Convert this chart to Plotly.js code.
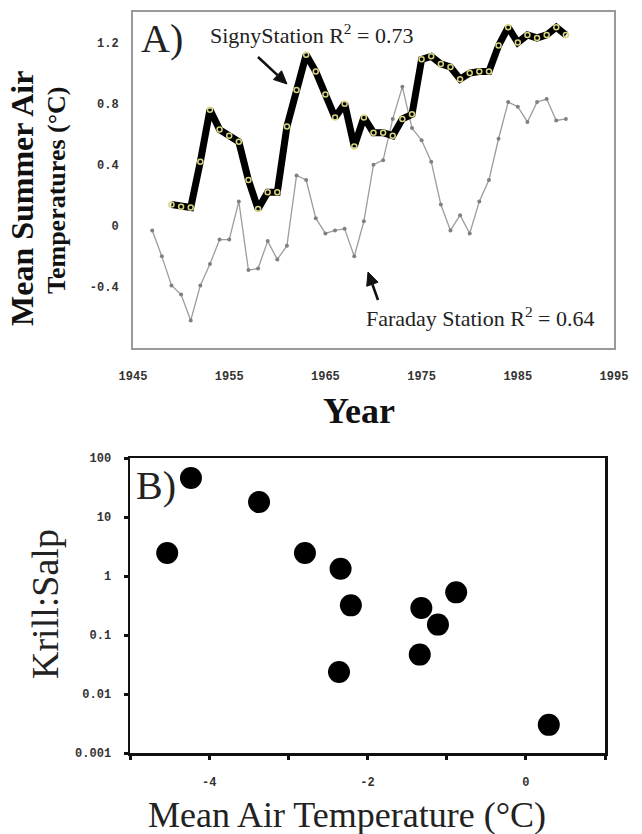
<!DOCTYPE html>
<html>
<head>
<meta charset="utf-8">
<script src="https://cdn.plot.ly/plotly-3.0.1.min.js"></script>
<style>
html,body{margin:0;padding:0;background:#fff;}
#chart{width:642px;height:834px;}
</style>
</head>
<body>
<div id="chart"></div>
<script>
// ---- Panel A data ----
const signyYears = [1949,1950,1951,1952,1953,1954,1955,1956,1957,1958,1959,1960,1961,1962,1963,1964,1965,1966,1967,1968,1969,1970,1971,1972,1973,1974,1975,1976,1977,1978,1979,1980,1981,1982,1983,1984,1985,1986,1987,1988,1989,1990];
const signyTemps = [0.14,0.125,0.12,0.42,0.76,0.63,0.59,0.55,0.30,0.11,0.22,0.22,0.65,0.89,1.12,1.01,0.86,0.71,0.80,0.52,0.71,0.61,0.61,0.59,0.70,0.73,1.09,1.11,1.06,1.04,0.96,1.00,1.01,1.01,1.18,1.30,1.20,1.25,1.23,1.25,1.30,1.25];
const faradayYears = [1947,1948,1949,1950,1951,1952,1953,1954,1955,1956,1957,1958,1959,1960,1961,1962,1963,1964,1965,1966,1967,1968,1969,1970,1971,1972,1973,1974,1975,1976,1977,1978,1979,1980,1981,1982,1983,1984,1985,1986,1987,1988,1989,1990];
const faradayTemps = [-0.03,-0.20,-0.39,-0.45,-0.62,-0.39,-0.25,-0.09,-0.09,0.16,-0.29,-0.28,-0.10,-0.22,-0.13,0.33,0.30,0.05,-0.05,-0.03,-0.02,-0.20,0.03,0.40,0.43,0.70,0.91,0.64,0.56,0.42,0.14,-0.03,0.07,-0.05,0.16,0.30,0.57,0.81,0.78,0.68,0.81,0.83,0.69,0.70];
const yearTicks = [1945,1955,1965,1975,1985,1995];
const tempTicksA = [-0.4,0,0.4,0.8,1.2];
const tempTickTextA = ['-0.4','0','0.4','0.8','1.2'];

// ---- Panel B data ----
const airTemp = [-4.23,-3.37,-4.53,-2.79,-2.34,-2.21,-1.32,-0.88,-1.11,-1.34,-2.36,0.29];
const krillSalp = [45.8,17.9,2.45,2.45,1.33,0.318,0.287,0.528,0.150,0.0465,0.0236,0.0030];
const tempTicksB = [-4,-2,0];
const tempTickTextB = ['-4','-2','0'];
const tempMinorTicksB = [-5,-3,-1,1];
const ratioTicks = [0.001,0.01,0.1,1,10,100];
const ratioTickText = ['0.001','0.01','0.1','1','10','100'];

const W = 642, H = 834;
const px = v => v / W;
const py = v => 1 - v / H;

const serif = 'Liberation Serif, Times New Roman, serif';
const mono = 'Liberation Mono, DejaVu Sans Mono, monospace';

// arrow pointer shapes (decoration, figure pixels -> paper)
function arrowShapes(tail, head, headLen, halfW) {
  const dx = head[0] - tail[0], dy = head[1] - tail[1];
  const L = Math.hypot(dx, dy), ux = dx / L, uy = dy / L;
  const bx = head[0] - headLen * ux, by = head[1] - headLen * uy;
  const pxp = -uy * halfW, pyp = ux * halfW;
  const P = (x, y) => px(x).toFixed(5) + ',' + py(y).toFixed(5);
  return [
    {type:'line', xref:'paper', yref:'paper', x0:px(tail[0]), y0:py(tail[1]), x1:px(bx), y1:py(by),
     line:{color:'#111', width:2.6}},
    {type:'path', xref:'paper', yref:'paper',
     path:'M' + P(head[0], head[1]) + ' L' + P(bx + pxp, by + pyp) + ' L' + P(bx - pxp, by - pyp) + ' Z',
     fillcolor:'#111', line:{color:'#111', width:1}}
  ];
}

const traces = [
  {x: faradayYears, y: faradayTemps, xaxis:'x', yaxis:'y', mode:'lines+markers',
   line:{color:'#9c9c9c', width:1.3}, marker:{color:'#808080', size:4}, hoverinfo:'skip'},
  {x: signyYears, y: signyTemps, xaxis:'x', yaxis:'y', mode:'lines+markers',
   line:{color:'#000', width:7}, marker:{symbol:'circle-open', color:'#d8d47c', size:5, line:{width:1.5, color:'#d8d47c'}}, hoverinfo:'skip'},
  {x: airTemp, y: krillSalp, xaxis:'x2', yaxis:'y2', mode:'markers',
   marker:{color:'#000', size:22}, hoverinfo:'skip'}
];

const layout = {
  width: W, height: H,
  margin: {l:0, r:0, t:0, b:0},
  paper_bgcolor:'#fff', plot_bgcolor:'#fff',
  showlegend:false,
  xaxis: {domain:[px(133), px(614)], range:[1945,1995], tickvals: yearTicks, ticktext: yearTicks.map(String),
    showgrid:false, zeroline:false, showline:true, mirror:true, linecolor:'#9a9a9a', linewidth:2,
    ticks:'', ticklabelstandoff:16, tickfont:{family:mono, size:12, color:'#333', weight:'bold'}, anchor:'y'},
  yaxis: {domain:[py(348), py(12)], range:[-0.8,1.4], tickvals: tempTicksA, ticktext: tempTickTextA,
    showgrid:false, zeroline:false, showline:true, mirror:true, linecolor:'#9a9a9a', linewidth:2,
    ticks:'', ticklabelstandoff:10, tickfont:{family:mono, size:12, color:'#333', weight:'bold'}, anchor:'x'},
  xaxis2: {domain:[px(130), px(605)], range:[-5,1], tickmode:'array', tickvals: tempTicksB, ticktext: tempTickTextB,
    showgrid:false, zeroline:false, showline:true, mirror:true, linecolor:'#111', linewidth:2.5,
    ticks:'outside', ticklen:4, tickwidth:3, tickcolor:'#111', ticklabelstandoff:12,
    minor:{tickmode:'array', tickvals: tempMinorTicksB, ticks:'outside', ticklen:4, tickwidth:3, tickcolor:'#111', showgrid:false},
    tickfont:{family:mono, size:12, color:'#333', weight:'bold'}, anchor:'y2'},
  yaxis2: {domain:[py(753), py(458)], type:'log', range:[-3,2], tickvals: ratioTicks, ticktext: ratioTickText,
    showgrid:false, zeroline:false, showline:true, mirror:true, linecolor:'#111', linewidth:2.5,
    ticks:'outside', ticklen:4, tickwidth:3, tickcolor:'#111', ticklabelstandoff:10,
    tickfont:{family:mono, size:12, color:'#333', weight:'bold'}, anchor:'x2'},
  shapes: [].concat(
    arrowShapes([258, 57], [287, 84], 13, 6),
    arrowShapes([378, 300], [368, 272], 13, 6)
  ),
  annotations: [
    {xref:'paper', yref:'paper', x:px(22), y:py(199), text:'Mean Summer Air', textangle:-90, showarrow:false,
     font:{family:serif, size:32, color:'#111', weight:'bold'}, xanchor:'center', yanchor:'middle'},
    {xref:'paper', yref:'paper', x:px(56), y:py(190), text:'Temperatures (°C)', textangle:-90, showarrow:false,
     font:{family:serif, size:26, color:'#111', weight:'bold'}, xanchor:'center', yanchor:'middle'},
    {xref:'paper', yref:'paper', x:px(359), y:py(411), text:'Year', showarrow:false,
     font:{family:serif, size:36, color:'#111', weight:'bold'}, xanchor:'center', yanchor:'middle'},
    {xref:'paper', yref:'paper', x:px(162), y:py(38), text:'A)', showarrow:false,
     font:{family:serif, size:40, color:'#222'}, xanchor:'center', yanchor:'middle'},
    {xref:'paper', yref:'paper', x:px(311), y:py(34), text:'SignyStation R<sup>2</sup> = 0.73', showarrow:false,
     font:{family:serif, size:22, color:'#222'}, xanchor:'center', yanchor:'middle'},
    {xref:'paper', yref:'paper', x:px(480), y:py(317), text:'Faraday Station R<sup>2</sup> = 0.64', showarrow:false,
     font:{family:serif, size:22, color:'#222'}, xanchor:'center', yanchor:'middle'},
    {xref:'paper', yref:'paper', x:px(156), y:py(485), text:'B)', showarrow:false,
     font:{family:serif, size:40, color:'#222'}, xanchor:'center', yanchor:'middle'},
    {xref:'paper', yref:'paper', x:px(45), y:py(604), text:'Krill:Salp', textangle:-90, showarrow:false,
     font:{family:serif, size:38, color:'#222'}, xanchor:'center', yanchor:'middle'},
    {xref:'paper', yref:'paper', x:px(347), y:py(815), text:'Mean Air Temperature (°C)', showarrow:false,
     font:{family:serif, size:36, color:'#222'}, xanchor:'center', yanchor:'middle'}
  ]
};

Plotly.newPlot('chart', traces, layout, {staticPlot:true, displayModeBar:false});
</script>
</body>
</html>
